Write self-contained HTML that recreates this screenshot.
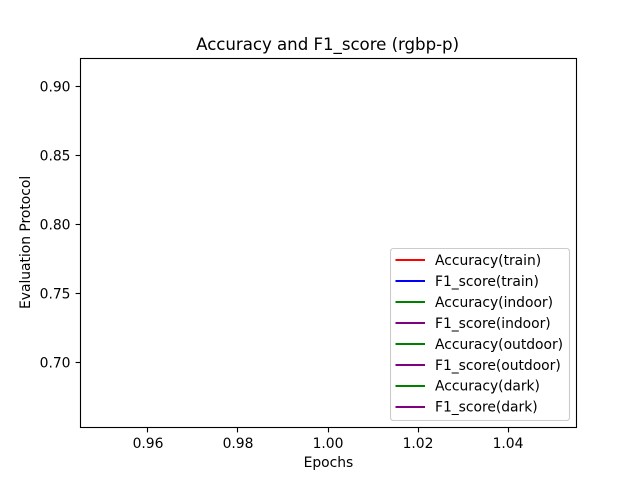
<!DOCTYPE html>
<html lang="en">
<head>
<meta charset="utf-8">
<title>Accuracy and F1_score (rgbp-p)</title>
<style>
html,body{margin:0;padding:0;background:#fff;width:640px;height:480px;overflow:hidden}
svg{display:block}
text{font-family:"DejaVu Sans",sans-serif;font-size:13.89px;fill:#000;letter-spacing:-0.02px}
</style>
</head>
<body>
<svg id="chart" xmlns="http://www.w3.org/2000/svg" width="640" height="480" viewBox="0 0 640 480">
  <rect x="0" y="0" width="640" height="480" fill="#fff"/>
  <rect x="80" y="58" width="496" height="370" fill="#fff"/>
  <g id="series"></g>
  <g id="x-ticks"></g>
  <g id="y-ticks"></g>
  <rect x="80.5" y="58.5" width="496" height="369" fill="none" stroke="#000" stroke-width="1.11"/>
  <text x="327.6" y="50" text-anchor="middle" style="font-size:16.67px;letter-spacing:-0.05px">Accuracy and F1_score (rgbp-p)</text>
  <text x="328.4" y="467" text-anchor="middle">Epochs</text>
  <text transform="translate(30 242.4) rotate(-90)" text-anchor="middle">Evaluation Protocol</text>
  <g id="legend">
    <rect x="390.5" y="248.5" width="179" height="172" rx="2.8" ry="2.8" fill="#fff" fill-opacity="0.8" stroke="#ccc" stroke-width="1.11"/>
  </g>
</svg>
<script>
const categories = [1];
const seriesNames = ["Accuracy(train)", "F1_score(train)", "Accuracy(indoor)", "F1_score(indoor)", "Accuracy(outdoor)", "F1_score(outdoor)", "Accuracy(dark)", "F1_score(dark)"];
const accuracyTrain = [0.9086];
const f1Train = [0.8950];
const accuracyIndoor = [0.7800];
const f1Indoor = [0.7500];
const accuracyOutdoor = [0.7300];
const f1Outdoor = [0.7000];
const accuracyDark = [0.6900];
const f1Dark = [0.6652];
const xTickValues = [0.96, 0.98, 1.00, 1.02, 1.04];
const yTickValues = [0.70, 0.75, 0.80, 0.85, 0.90];

const allSeries = [accuracyTrain, f1Train, accuracyIndoor, f1Indoor, accuracyOutdoor, f1Outdoor, accuracyDark, f1Dark];
const seriesColors = ["#ff0000", "#0000ff", "#008000", "#800080", "#008000", "#800080", "#008000", "#800080"];
const NS = "http://www.w3.org/2000/svg";

function xScale(v) { return 328 + (v - 1) * 4500; }
function yScale(v) { return 86.3 + (0.90 - v) * 1380; }
function snap(p) { return Math.floor(p) + 0.5; }
function make(tag, attrs, parent) {
  const el = document.createElementNS(NS, tag);
  for (const k in attrs) el.setAttribute(k, attrs[k]);
  parent.appendChild(el);
  return el;
}

const seriesGroup = document.getElementById("series");
allSeries.forEach(function (values, i) {
  const pts = values.map(function (v, j) { return xScale(categories[j]) + "," + yScale(v); }).join(" ");
  const line = make("polyline", { points: pts, fill: "none", stroke: seriesColors[i], "stroke-width": 2.08 }, seriesGroup);
  
  
});

const xGroup = document.getElementById("x-ticks");
xTickValues.forEach(function (v) {
  const px = snap(xScale(v));
  const tick = make("line", { x1: px, x2: px, y1: 428, y2: 432.4, stroke: "#000", "stroke-width": 1.11 }, xGroup);
  
  
  const label = make("text", { x: xScale(v), y: 448, "text-anchor": "middle" }, xGroup);
  
  
  label.textContent = v.toFixed(2);
});

const yGroup = document.getElementById("y-ticks");
yTickValues.forEach(function (v) {
  const py = snap(yScale(v));
  const tick = make("line", { x1: 75.6, x2: 80, y1: py, y2: py, stroke: "#000", "stroke-width": 1.11 }, yGroup);
  
  
  const label = make("text", { x: 70.5, y: yScale(v) + 5.3, "text-anchor": "end" }, yGroup);
  
  
  label.textContent = v.toFixed(2);
});

const legendGroup = document.getElementById("legend");
seriesNames.forEach(function (name, i) {
  const rowY = 260 + i * 20.95;
  const handle = make("line", { x1: 395.5, x2: 425, y1: Math.round(rowY), y2: Math.round(rowY), stroke: seriesColors[i], "stroke-width": 2.08 }, legendGroup);
  
  
  const label = make("text", { x: 435, y: rowY + 5 }, legendGroup);
  
  
  label.textContent = name;
});
</script>
</body>
</html>
